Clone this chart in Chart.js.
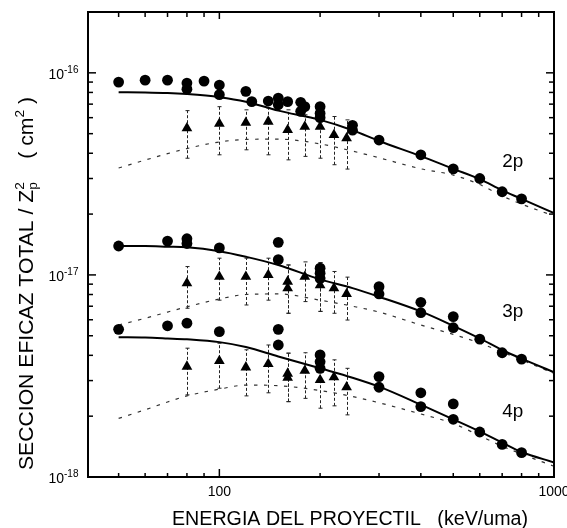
<!DOCTYPE html>
<html>
<head>
<meta charset="utf-8">
<script src="https://cdn.jsdelivr.net/npm/chart.js@4.4.0/dist/chart.umd.min.js"></script>
<style>
html, body { margin: 0; padding: 0; background: #fff; }
canvas { display: block; }
</style>
</head>
<body>
<canvas id="myChart" width="567" height="528"></canvas>
<script>
// curvas teoricas (solida y de trazos), energia en keV/uma
const energia = [50, 60, 70, 80, 100, 120, 150, 200, 250, 300, 400, 500, 600, 700, 800, 1000]
const teoria2p = [8.02e-17, 8.0e-17, 7.95e-17, 7.85e-17, 7.58e-17, 7.2e-17, 6.5e-17, 5.85e-17, 5.2e-17, 4.6e-17, 3.87e-17, 3.35e-17, 2.98e-17, 2.62e-17, 2.38e-17, 2.02e-17]
const trazos2p = [3.38e-17, 3.7e-17, 3.98e-17, 4.22e-17, 4.55e-17, 4.68e-17, 4.7e-17, 4.45e-17, 4.1e-17, 3.8e-17, 3.35e-17, 3.12e-17, 2.8e-17, 2.46e-17, 2.24e-17, 1.96e-17]
const teoria3p = [1.39e-17, 1.39e-17, 1.38e-17, 1.37e-17, 1.31e-17, 1.23e-17, 1.12e-17, 9.5e-18, 8.6e-18, 7.8e-18, 6.6e-18, 5.6e-18, 4.85e-18, 4.25e-18, 3.85e-18, 3.3e-18]
const trazos3p = [5.65e-18, 6.1e-18, 6.55e-18, 6.95e-18, 7.6e-18, 8.0e-18, 8.05e-18, 7.5e-18, 7.0e-18, 6.55e-18, 5.65e-18, 5.08e-18, 4.6e-18, 4.15e-18, 3.8e-18, 3.25e-18]
const teoria4p = [4.92e-18, 4.9e-18, 4.85e-18, 4.8e-18, 4.65e-18, 4.4e-18, 3.95e-18, 3.45e-18, 3.1e-18, 2.8e-18, 2.28e-18, 1.93e-18, 1.68e-18, 1.48e-18, 1.33e-18, 1.18e-18]
const trazos4p = [1.95e-18, 2.15e-18, 2.35e-18, 2.52e-18, 2.72e-18, 2.85e-18, 2.83e-18, 2.68e-18, 2.5e-18, 2.33e-18, 2.05e-18, 1.84e-18, 1.6e-18, 1.42e-18, 1.3e-18, 1.13e-18]

// puntos experimentales (circulos)
const circ2pX = [50, 60, 70, 80, 80, 90, 100, 100, 120, 125, 140, 150, 150, 160, 175, 175, 180, 200, 200, 200, 250, 250, 300, 400, 500, 600, 700, 800]
const circ2pY = [9.0e-17, 9.2e-17, 9.2e-17, 8.9e-17, 8.3e-17, 9.1e-17, 8.7e-17, 7.8e-17, 8.1e-17, 7.2e-17, 7.25e-17, 7.5e-17, 6.95e-17, 7.2e-17, 7.15e-17, 6.45e-17, 6.8e-17, 6.8e-17, 6.3e-17, 6.0e-17, 5.5e-17, 5.2e-17, 4.65e-17, 3.93e-17, 3.35e-17, 3.0e-17, 2.58e-17, 2.38e-17]
const circ3pX = [50, 70, 80, 80, 100, 150, 150, 200, 200, 200, 300, 300, 400, 400, 500, 500, 600, 700, 800]
const circ3pY = [1.39e-17, 1.47e-17, 1.51e-17, 1.43e-17, 1.36e-17, 1.45e-17, 1.19e-17, 1.08e-17, 1.02e-17, 9.6e-18, 8.75e-18, 8.05e-18, 7.32e-18, 6.5e-18, 6.22e-18, 5.48e-18, 4.81e-18, 4.12e-18, 3.83e-18]
const circ4pX = [50, 70, 80, 100, 150, 150, 200, 200, 200, 300, 300, 400, 400, 500, 500, 600, 700, 800]
const circ4pY = [5.38e-18, 5.6e-18, 5.77e-18, 5.24e-18, 5.38e-18, 4.5e-18, 4.02e-18, 3.72e-18, 3.45e-18, 3.14e-18, 2.78e-18, 2.61e-18, 2.23e-18, 2.3e-18, 1.93e-18, 1.67e-18, 1.45e-18, 1.32e-18]

// puntos experimentales (triangulos) con barras de error
const tri2pX = [80, 100, 120, 140, 160, 180, 200, 220, 240]
const tri2pY = [5.32e-17, 5.6e-17, 5.67e-17, 5.74e-17, 5.22e-17, 5.42e-17, 5.42e-17, 4.93e-17, 4.75e-17]
const tri2pSup = [6.5e-17, 6.8e-17, 6.56e-17, 6.69e-17, 6.56e-17, 6.2e-17, 7.08e-17, 6.08e-17, 5.85e-17]
const tri2pInf = [3.78e-17, 3.93e-17, 4.16e-17, 3.93e-17, 3.71e-17, 3.86e-17, 3.78e-17, 3.51e-17, 3.34e-17]
const tri3pX = [80, 100, 120, 140, 160, 160, 180, 200, 200, 220, 240]
const tri3pY = [9.1e-18, 9.8e-18, 9.8e-18, 1.0e-17, 9.27e-18, 8.6e-18, 9.8e-18, 1.0e-17, 8.9e-18, 8.6e-18, 8.05e-18]
const tri3pSup = [1.1e-17, 1.21e-17, 1.21e-17, 1.21e-17, 1.12e-17, 1.12e-17, 1.16e-17, 1.15e-17, 1.15e-17, 1.04e-17, 9.75e-18]
const tri3pInf = [6.84e-18, 7.5e-18, 7.1e-18, 7.5e-18, 6.46e-18, 6.46e-18, 7.38e-18, 6.6e-18, 6.6e-18, 6.46e-18, 5.98e-18]
const tri4pX = [80, 100, 120, 140, 160, 160, 180, 200, 220, 240]
const tri4pY = [3.52e-18, 3.75e-18, 3.49e-18, 3.63e-18, 3.25e-18, 3.1e-18, 3.36e-18, 3.02e-18, 3.12e-18, 2.78e-18]
const tri4pSup = [4.34e-18, 4.59e-18, 4.26e-18, 4.5e-18, 4.1e-18, 4.1e-18, 4.12e-18, 4.2e-18, 3.8e-18, 3.45e-18]
const tri4pInf = [2.55e-18, 2.75e-18, 2.52e-18, 2.61e-18, 2.36e-18, 2.36e-18, 2.45e-18, 2.19e-18, 2.25e-18, 2.03e-18]

// marcas y etiquetas de los ejes
const xMarcasMayores = [100, 1000]
const xMarcasMenores = [50, 60, 70, 80, 90, 200, 300, 400, 500, 600, 700, 800, 900]
const xEtiquetas = ['100', '1000']
const yMarcasMayores = [1e-18, 1e-17, 1e-16]
const yMarcasMenores = [2e-18, 3e-18, 4e-18, 5e-18, 6e-18, 7e-18, 8e-18, 9e-18, 2e-17, 3e-17, 4e-17, 5e-17, 6e-17, 7e-17, 8e-17, 9e-17]
const yExponentes = ['-18', '-17', '-16']
const capas = ['2p', '3p', '4p']

const NARROW = '"Liberation Sans Narrow", "Liberation Sans", Arial, sans-serif'
const SANS = '"Liberation Sans", Arial, sans-serif'

function puntos(xs, ys) {
    return xs.map((x, i) => ({ x: x, y: ys[i] }))
}

const barras = [
    { x: tri2pX, sup: tri2pSup, inf: tri2pInf },
    { x: tri3pX, sup: tri3pSup, inf: tri3pInf },
    { x: tri4pX, sup: tri4pSup, inf: tri4pInf }
]

function circulos(xs, ys) {
    return { data: puntos(xs, ys), pointStyle: 'circle', pointRadius: 5.4, backgroundColor: '#000', borderWidth: 0, showLine: false }
}
function triangulos(xs, ys) {
    return { data: puntos(xs, ys), pointStyle: 'triangle', pointRadius: 6.2, backgroundColor: '#000', borderWidth: 0, showLine: false }
}
function solida(ys) {
    return { data: puntos(energia, ys), showLine: true, pointRadius: 0, borderColor: '#000', borderWidth: 2, cubicInterpolationMode: 'monotone' }
}
function trazos(ys) {
    return { data: puntos(energia, ys), showLine: true, pointRadius: 0, borderColor: '#333', borderWidth: 1.2, borderDash: [3.5, 6.5], cubicInterpolationMode: 'monotone' }
}

// texto comprimido a un ancho dado
function textoAncho(ctx, txt, x, y, ancho) {
    const w = ctx.measureText(txt).width
    ctx.save()
    ctx.translate(x, y)
    ctx.scale(ancho / w, 1)
    ctx.fillText(txt, 0, 0)
    ctx.restore()
}

function linea(ctx, x1, y1, x2, y2) {
    ctx.beginPath()
    ctx.moveTo(x1, y1)
    ctx.lineTo(x2, y2)
    ctx.stroke()
}

const marco = {
    id: 'marco',
    beforeDatasetsDraw(chart) {
        const ctx = chart.ctx, sx = chart.scales.x, sy = chart.scales.y
        ctx.save()
        ctx.strokeStyle = '#222'
        ctx.lineWidth = 1
        barras.forEach(b => {
            b.x.forEach((x, i) => {
                const px = Math.round(sx.getPixelForValue(x)) + 0.5
                const ys = sy.getPixelForValue(b.sup[i])
                const yi = sy.getPixelForValue(b.inf[i])
                ctx.setLineDash([3, 2])
                linea(ctx, px, yi, px, ys)
                ctx.setLineDash([])
                linea(ctx, px - 2, ys, px + 2, ys)
                linea(ctx, px - 2, yi, px + 2, yi)
            })
        })
        ctx.restore()
    },
    afterDraw(chart) {
        const ctx = chart.ctx, sx = chart.scales.x, sy = chart.scales.y
        const { left, right, top, bottom } = chart.chartArea
        ctx.save()
        ctx.strokeStyle = '#000'
        ctx.fillStyle = '#000'

        // marco
        ctx.lineWidth = 2
        ctx.strokeRect(left, top, right - left, bottom - top)

        // marcas hacia adentro
        ctx.lineWidth = 1.5
        xMarcasMayores.forEach(v => {
            const px = sx.getPixelForValue(v)
            linea(ctx, px, bottom, px, bottom - 8)
            linea(ctx, px, top, px, top + 7)
        })
        xMarcasMenores.forEach(v => {
            const px = sx.getPixelForValue(v)
            linea(ctx, px, bottom, px, bottom - 4)
            linea(ctx, px, top, px, top + 5)
        })
        yMarcasMayores.forEach(v => {
            const py = sy.getPixelForValue(v)
            linea(ctx, left, py, left + 8, py)
            linea(ctx, right, py, right - 8, py)
        })
        yMarcasMenores.forEach(v => {
            const py = sy.getPixelForValue(v)
            linea(ctx, left, py, left + 5, py)
            linea(ctx, right, py, right - 5, py)
        })

        // etiquetas del eje x
        ctx.font = '14px ' + SANS
        ctx.textAlign = 'center'
        xMarcasMayores.forEach((v, i) => {
            ctx.fillText(xEtiquetas[i], sx.getPixelForValue(v), bottom + 19)
        })

        // etiquetas del eje y (10 con exponente)
        yMarcasMayores.forEach((v, i) => {
            const py = sy.getPixelForValue(v)
            ctx.font = '14px ' + SANS
            ctx.textAlign = 'right'
            ctx.fillText('10', 64, py + 6)
            ctx.font = '10px ' + SANS
            ctx.textAlign = 'left'
            ctx.fillText(yExponentes[i], 64, py)
        })

        // nombres de las capas
        ctx.textAlign = 'left'
        ctx.font = '19px ' + SANS
        const posCapas = [[3.43e-17], [6.2e-18], [1.98e-18]]
        capas.forEach((c, i) => {
            textoAncho(ctx, c, sx.getPixelForValue(700), sy.getPixelForValue(posCapas[i][0]), 21)
        })

        // titulo eje x
        ctx.font = '20px ' + NARROW
        textoAncho(ctx, 'ENERGIA DEL PROYECTIL   (keV/uma)', 172, 525, 356)

        // titulo eje y con Z_p^2 y cm^2
        const grande = '20px ' + NARROW
        const chico = '13px ' + NARROW
        const partes = [
            { t: 'SECCION EFICAZ TOTAL / Z', f: grande, dy: 0 },
            { t: '2', f: chico, dy: -9, abajo: 'p' },
            { t: '    ( cm', f: grande, dy: 0 },
            { t: '2', f: chico, dy: -9 },
            { t: ' )', f: grande, dy: 0 }
        ]
        let total = 0
        partes.forEach(p => {
            ctx.font = p.f
            p.w = ctx.measureText(p.t).width
            if (p.abajo) p.w = Math.max(p.w, ctx.measureText(p.abajo).width)
            total += p.w
        })
        ctx.translate(33, 470)
        ctx.rotate(-Math.PI / 2)
        ctx.scale(373 / total, 1)
        let x = 0
        partes.forEach(p => {
            ctx.font = p.f
            ctx.fillText(p.t, x, p.dy)
            if (p.abajo) ctx.fillText(p.abajo, x, 4)
            x += p.w
        })
        ctx.restore()
    }
}

new Chart(document.getElementById('myChart'), {
    type: 'scatter',
    data: {
        datasets: [
            circulos(circ2pX, circ2pY),
            circulos(circ3pX, circ3pY),
            circulos(circ4pX, circ4pY),
            triangulos(tri2pX, tri2pY),
            triangulos(tri3pX, tri3pY),
            triangulos(tri4pX, tri4pY),
            solida(teoria2p),
            solida(teoria3p),
            solida(teoria4p),
            trazos(trazos2p),
            trazos(trazos3p),
            trazos(trazos4p)
        ]
    },
    options: {
        responsive: false,
        animation: false,
        layout: { padding: { left: 88, right: 13, top: 12, bottom: 51 } },
        plugins: {
            legend: { display: false },
            tooltip: { enabled: false }
        },
        scales: {
            x: {
                type: 'logarithmic', min: 40.5, max: 1000,
                ticks: { display: false },
                grid: { display: false, drawTicks: false },
                border: { display: false }
            },
            y: {
                type: 'logarithmic', min: 1e-18, max: 2e-16,
                ticks: { display: false },
                grid: { display: false, drawTicks: false },
                border: { display: false }
            }
        }
    },
    plugins: [marco]
})
</script>
</body>
</html>
